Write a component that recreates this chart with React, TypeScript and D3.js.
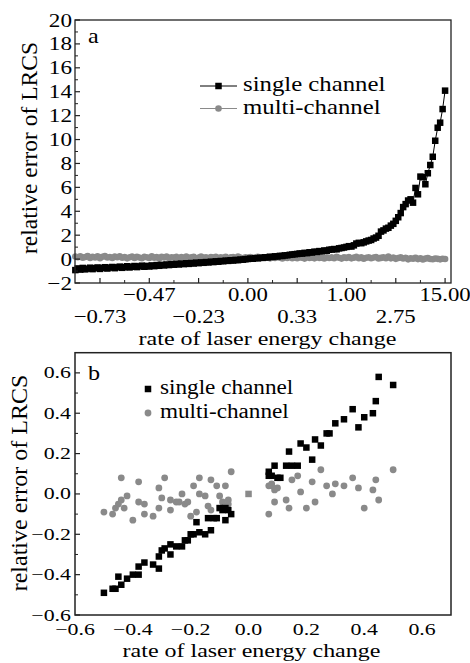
import React from "react";
import * as d3 from "d3";

// ---------- Chart a data ----------
const aTickLabelsUpper = ["−0.47", "0.00", "1.00", "15.00"];
const aTickLabelsLower = ["−0.73", "−0.23", "0.33", "2.75"];
const aTickIndexUpper = [30, 70, 110, 150];
const aTickIndexLower = [10, 50, 90, 130];
const aYTicks = [-2, 0, 2, 4, 6, 8, 10, 12, 14, 16, 18, 20];

const aSingle = [
  -0.92, -0.78, -0.88, -0.74, -0.86, -0.8, -0.72, -0.84, -0.76, -0.7,
  -0.82, -0.74, -0.68, -0.79, -0.71, -0.66, -0.76, -0.69, -0.63, -0.73,
  -0.67, -0.6, -0.7, -0.64, -0.58, -0.67, -0.61, -0.55, -0.64, -0.57,
  -0.62, -0.53, -0.59, -0.5, -0.56, -0.48, -0.53, -0.45, -0.5, -0.43,
  -0.47, -0.4, -0.45, -0.38, -0.42, -0.35, -0.4, -0.33, -0.37, -0.3,
  -0.34, -0.28, -0.31, -0.25, -0.28, -0.22, -0.25, -0.19, -0.22, -0.16,
  -0.18, -0.13, -0.15, -0.1, -0.12, -0.07, -0.09, -0.04, -0.05, -0.01,
  0.01, 0.04, 0.03, 0.08, 0.07, 0.11, 0.1, 0.15, 0.14, 0.19,
  0.18, 0.23, 0.22, 0.27, 0.26, 0.31, 0.32, 0.36, 0.38, 0.41,
  0.43, 0.47, 0.46, 0.52, 0.5, 0.57, 0.55, 0.62, 0.6, 0.67,
  0.65, 0.72, 0.7, 0.78, 0.8, 0.84, 0.82, 0.9, 0.93, 0.97,
  1.02, 1.08, 1.05, 1.15, 1.3, 1.36, 1.33, 1.4, 1.48, 1.55,
  1.6, 1.72, 1.8, 1.95, 2.3, 2.4, 2.55, 2.62, 2.8, 2.95,
  3.2, 3.5, 3.85, 4.35, 4.6, 4.9, 5.0, 4.72, 5.95, 5.42,
  6.9, 6.85, 6.26, 7.18, 7.87, 8.56, 9.9, 10.99, 11.41, 12.55,
  14.09,
];

const aMulti = [
  0.22, 0.15, 0.24, 0.12, 0.18, 0.26, 0.1, 0.2, 0.14, 0.23,
  0.08, 0.19, 0.25, 0.13, 0.17, 0.09, 0.21, 0.15, 0.24, 0.11,
  0.18, 0.06, 0.16, 0.22, 0.1, 0.19, 0.13, 0.07, 0.2, 0.15,
  0.09, 0.23, 0.12, 0.17, 0.05, 0.19, 0.14, 0.21, 0.08, 0.16,
  0.12, 0.2, 0.06, 0.17, 0.11, 0.22, 0.09, 0.15, 0.19, 0.07,
  0.13, 0.21, 0.1, 0.16, 0.05, 0.18, 0.12, 0.2, 0.08, 0.15,
  0.11, 0.19, 0.06, 0.14, 0.17, 0.09, 0.21, 0.12, 0.07, 0.16,
  0.1, 0.18, 0.05, 0.13, 0.19, 0.08, 0.15, 0.11, 0.2, 0.06,
  0.14, 0.09, 0.17, 0.12, 0.05, 0.16, 0.1, 0.19, 0.07, 0.13,
  0.08, 0.15, 0.11, 0.04, 0.17, 0.09, 0.13, 0.06, 0.18, 0.1,
  0.12, 0.05, 0.16, 0.09, 0.14, 0.07, 0.19, 0.11, 0.04, 0.15,
  0.1, 0.17, 0.06, 0.12, 0.2, 0.08, 0.14, 0.03, 0.11, 0.16,
  0.07, 0.13, 0.18, 0.05, 0.1, 0.15, 0.08, 0.21, 0.06, 0.12,
  0.02, 0.09, 0.14, 0.05, 0.11, -0.02, 0.07, 0.03, 0.1, 0.0,
  0.06, -0.03, 0.04, 0.08, 0.01, -0.01, 0.05, 0.02, -0.02, 0.03,
  0.01,
];

// ---------- Chart b data ----------
const bTicks = [-0.6, -0.4, -0.2, 0.0, 0.2, 0.4, 0.6];

const bSingle: [number, number][] = [
  [-0.5, -0.49], [-0.47, -0.47], [-0.46, -0.47], [-0.45, -0.41], [-0.44, -0.45],
  [-0.42, -0.42], [-0.4, -0.4], [-0.38, -0.4], [-0.38, -0.36], [-0.36, -0.34],
  [-0.33, -0.35], [-0.31, -0.37], [-0.31, -0.31], [-0.3, -0.28], [-0.29, -0.27],
  [-0.27, -0.3], [-0.27, -0.25], [-0.25, -0.26], [-0.23, -0.26], [-0.22, -0.23],
  [-0.21, -0.23], [-0.2, -0.2], [-0.19, -0.2], [-0.18, -0.14], [-0.17, -0.19],
  [-0.15, -0.2], [-0.13, -0.18], [-0.14, -0.12], [-0.12, -0.12], [-0.11, -0.12],
  [-0.1, -0.07], [-0.09, -0.08], [-0.08, -0.13], [-0.07, -0.08], [-0.06, -0.1],
  [-0.08, -0.07],
  [0.07, 0.11], [0.07, 0.09], [0.09, 0.14], [0.08, 0.09], [0.1, 0.08],
  [0.11, 0.08], [0.14, 0.21], [0.13, 0.14], [0.15, 0.14], [0.17, 0.14],
  [0.18, 0.25], [0.2, 0.23], [0.22, 0.17], [0.23, 0.27], [0.25, 0.24],
  [0.27, 0.3], [0.28, 0.3], [0.3, 0.35], [0.33, 0.37], [0.36, 0.42],
  [0.38, 0.33], [0.4, 0.38], [0.43, 0.4], [0.44, 0.46], [0.45, 0.58],
  [0.5, 0.54],
];

const bMulti: [number, number][] = [
  [-0.5, -0.09], [-0.47, -0.1], [-0.46, -0.07], [-0.45, -0.05], [-0.44, -0.03],
  [-0.44, 0.08], [-0.43, -0.07], [-0.42, -0.01], [-0.4, -0.13], [-0.38, 0.06],
  [-0.38, -0.04], [-0.36, -0.05], [-0.36, -0.1], [-0.33, -0.11], [-0.31, 0.03],
  [-0.31, -0.07], [-0.3, -0.02], [-0.29, 0.08], [-0.27, -0.08], [-0.27, -0.03],
  [-0.25, -0.04], [-0.24, -0.04], [-0.23, 0.0], [-0.22, -0.05], [-0.21, -0.04],
  [-0.2, -0.11], [-0.19, 0.04], [-0.18, -0.09], [-0.17, 0.0], [-0.17, 0.08],
  [-0.15, -0.01], [-0.14, -0.06], [-0.13, 0.07], [-0.13, -0.08], [-0.11, 0.04],
  [-0.1, -0.01], [-0.09, -0.04], [-0.08, 0.04], [-0.08, -0.06], [-0.07, -0.03],
  [-0.06, 0.11], [-0.07, -0.05],
  [0.07, -0.1], [0.07, 0.04], [0.08, 0.05], [0.08, 0.04], [0.09, 0.02],
  [0.09, -0.04], [0.1, 0.03], [0.13, -0.03], [0.14, -0.07], [0.15, 0.07],
  [0.17, 0.09], [0.18, 0.01], [0.2, -0.07], [0.22, 0.06], [0.23, -0.04],
  [0.25, 0.12], [0.27, 0.04], [0.29, 0.0], [0.3, 0.05], [0.33, 0.04],
  [0.36, 0.08], [0.38, 0.03], [0.4, -0.07], [0.43, 0.02], [0.44, 0.07],
  [0.45, -0.03], [0.5, 0.12],
];

const bOverlap: [number, number][] = [[0.0, 0.0]];

const FONT = "'Liberation Serif', 'Times New Roman', Times, serif";
const GRAY = "#8a8a8a";

function T(props: {
  x: number; y: number; sx?: number; size: number; anchor?: string; children: React.ReactNode;
}) {
  const { x, y, sx = 1, size, anchor = "start", children } = props;
  return (
    <text
      transform={`translate(${x},${y}) scale(${sx},1)`}
      fontSize={size}
      fontFamily={FONT}
      textAnchor={anchor as any}
      fill="#000"
    >
      {children}
    </text>
  );
}

function ChartA() {
  const L = 75, R = 451, Tp = 20, B = 283;
  const x = d3.scaleLinear().domain([-0.14, 152.4]).range([L, R]);
  const y = d3.scaleLinear().domain([-2, 20]).range([B, Tp]);
  const idx = aSingle.map((_, i) => i);
  const lineS = d3.line<number>().x((_, i) => x(i)).y((v) => y(v));
  const minorY = d3.range(-1, 20, 2);
  const majorXIdx = [...aTickIndexLower, ...aTickIndexUpper];
  const minorXIdx = d3.range(20, 150, 20);
  const sq = 6.5;
  return (
    <g>
      <path d={lineS(aMulti) || ""} fill="none" stroke={GRAY} strokeWidth={1} />
      {aMulti.map((v, i) => (
        <circle key={"m" + i} cx={x(i)} cy={y(v)} r={3.3} fill={GRAY} />
      ))}
      <path d={lineS(aSingle) || ""} fill="none" stroke="#000" strokeWidth={1} />
      {idx.map((i) => (
        <rect key={"s" + i} x={x(i) - sq / 2} y={y(aSingle[i]) - sq / 2} width={sq} height={sq} fill="#000" />
      ))}
      {/* frame */}
      <rect x={L} y={Tp} width={R - L} height={B - Tp} fill="none" stroke="#222" strokeWidth={1.3} />
      {/* y ticks */}
      {aYTicks.map((t) => (
        <g key={"yt" + t}>
          <line x1={L} x2={L + 5} y1={y(t)} y2={y(t)} stroke="#222" strokeWidth={1.2} />
          <T x={72} y={y(t) + 6.5} size={19} sx={1.22} anchor="end">
            {t < 0 ? "−" + Math.abs(t) : String(t)}
          </T>
        </g>
      ))}
      {minorY.map((t) => (
        <line key={"ym" + t} x1={L} x2={L + 3} y1={y(t)} y2={y(t)} stroke="#222" strokeWidth={1} />
      ))}
      {/* x ticks */}
      {majorXIdx.map((i) => (
        <line key={"xt" + i} x1={x(i)} x2={x(i)} y1={B} y2={B - 5} stroke="#222" strokeWidth={1.2} />
      ))}
      {minorXIdx.map((i) => (
        <line key={"xm" + i} x1={x(i)} x2={x(i)} y1={B} y2={B - 3} stroke="#222" strokeWidth={1} />
      ))}
      {aTickIndexUpper.map((i, k) => (
        <T key={"xu" + i} x={x(i)} y={301} size={19} sx={1.2} anchor="middle">
          {aTickLabelsUpper[k]}
        </T>
      ))}
      {aTickIndexLower.map((i, k) => (
        <T key={"xl" + i} x={x(i)} y={322.5} size={19} sx={1.2} anchor="middle">
          {aTickLabelsLower[k]}
        </T>
      ))}
      <T x={267.5} y={344.5} size={19.5} sx={1.23} anchor="middle">rate of laser energy change</T>
      <text
        transform="translate(37,148) rotate(-90)"
        fontSize={23.5}
        fontFamily={FONT}
        textAnchor="middle"
        fill="#000"
      >
        relative error of LRCS
      </text>
      <T x={88} y={43} size={21} sx={1.15}>a</T>
      {/* legend */}
      <line x1={200} x2={237} y1={86} y2={86} stroke="#000" strokeWidth={1} />
      <rect x={218.5 - sq / 2} y={86 - sq / 2} width={sq} height={sq} fill="#000" />
      <T x={243} y={91} size={21} sx={1.18}>single channel</T>
      <line x1={200} x2={237} y1={108.5} y2={108.5} stroke={GRAY} strokeWidth={1} />
      <circle cx={218.5} cy={108.5} r={3.3} fill={GRAY} />
      <T x={243} y={114} size={21} sx={1.18}>multi-channel</T>
    </g>
  );
}

function ChartB() {
  const L = 75, R = 451, Tp = 352.7, B = 615;
  const x = d3.scaleLinear().domain([-0.6, 0.7]).range([L, R]);
  const y = d3.scaleLinear().domain([-0.6, 0.7]).range([B, Tp]);
  const minorY = d3.range(-0.5, 0.7, 0.2);
  const sq = 6.5;
  return (
    <g>
      {bMulti.map((d, i) => (
        <circle key={"m" + i} cx={x(d[0])} cy={y(d[1])} r={3.4} fill={GRAY} />
      ))}
      {bSingle.map((d, i) => (
        <rect key={"s" + i} x={x(d[0]) - sq / 2} y={y(d[1]) - sq / 2} width={sq} height={sq} fill="#000" />
      ))}
      {bOverlap.map((d, i) => (
        <rect key={"o" + i} x={x(d[0]) - sq / 2} y={y(d[1]) - sq / 2} width={sq} height={sq} fill={GRAY} />
      ))}
      <rect x={L} y={Tp} width={R - L} height={B - Tp} fill="none" stroke="#222" strokeWidth={1.5} />
      {bTicks.map((t) => (
        <g key={"yt" + t}>
          <line x1={L} x2={L + 5} y1={y(t)} y2={y(t)} stroke="#222" strokeWidth={1.2} />
          <T x={71} y={y(t) + 5.5} size={17.5} sx={1.25} anchor="end">
            {t < 0 ? "−" + Math.abs(t).toFixed(1) : t.toFixed(1)}
          </T>
        </g>
      ))}
      {minorY.map((t, i) => (
        <line key={"ym" + i} x1={L} x2={L + 3} y1={y(t)} y2={y(t)} stroke="#222" strokeWidth={1} />
      ))}
      {bTicks.map((t) => (
        <T key={"xt" + t} x={x(t)} y={634.5} size={17.5} sx={1.25} anchor="middle">
          {t < 0 ? "−" + Math.abs(t).toFixed(1) : t.toFixed(1)}
        </T>
      ))}
      <T x={251.5} y={656.5} size={19.5} sx={1.23} anchor="middle">rate of laser energy change</T>
      <text
        transform="translate(27,483) rotate(-90)"
        fontSize={24}
        fontFamily={FONT}
        textAnchor="middle"
        fill="#000"
      >
        relative error of LRCS
      </text>
      <T x={88} y={380} size={21} sx={1.15}>b</T>
      {/* legend */}
      <rect x={148 - sq / 2} y={389 - sq / 2} width={sq} height={sq} fill="#000" />
      <T x={160} y={394} size={20} sx={1.16}>single channel</T>
      <circle cx={148} cy={413} r={3.4} fill={GRAY} />
      <T x={160} y={417.5} size={20} sx={1.16}>multi-channel</T>
    </g>
  );
}

export default function App() {
  return (
    <svg
      width={470}
      height={663}
      viewBox="0 0 470 663"
      style={{ position: "fixed", left: 0, top: 0, background: "#fff", display: "block" }}
    >
      <rect x={0} y={0} width={470} height={663} fill="#fff" />
      <ChartA />
      <ChartB />
    </svg>
  );
}
